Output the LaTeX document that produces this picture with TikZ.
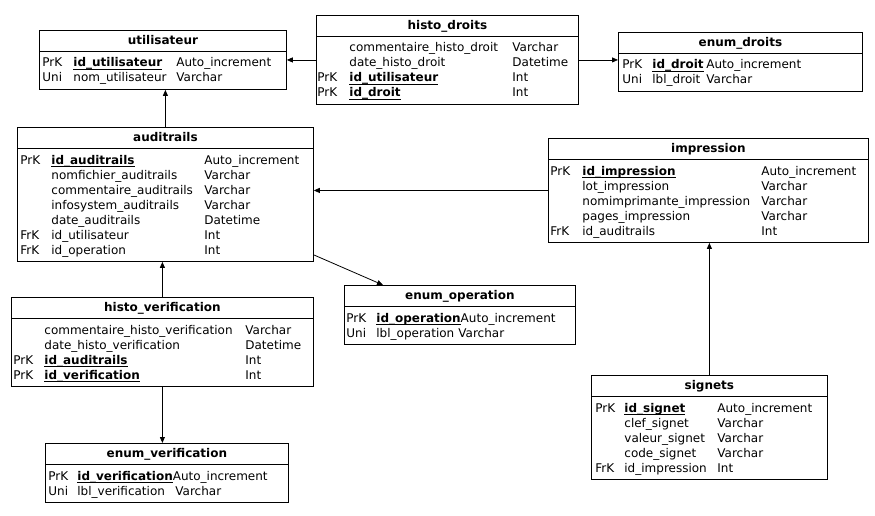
\documentclass[tikz,border=0pt]{standalone}
\usepackage{fontspec}
\setmainfont{DejaVu Sans}
\usepackage{array}
\usepackage{calc}
\usepackage{tikz}
\usetikzlibrary{arrows.meta, positioning}

\setlength{\tabcolsep}{0pt}
\setlength{\arrayrulewidth}{0.8pt}
\newcolumntype{L}[1]{>{\raggedright\arraybackslash}p{#1}}
\newcommand{\tabfont}{\fontsize{12}{15}\selectfont\hyphenpenalty=10000\exhyphenpenalty=10000}
\newcommand{\pkey}[1]{\textbf{#1}\llap{\rule[-2.8pt]{\widthof{\textbf{#1}}}{0.9pt}}}
\newcommand{\headpad}{\rule[-6.5pt]{0pt}{21pt}}
\newcommand{\toppad}{\rule{0pt}{14.8pt}}
\newcommand{\botpad}{\rule[-7.5pt]{0pt}{7.5pt}}

\begin{document}
\begin{tikzpicture}[
    x=1pt, y=-1pt,
    table/.style={draw, line width=0.8pt, inner sep=0pt, anchor=north west, font=\tabfont},
    link/.style={draw, line width=0.8pt, -{Triangle[length=6pt,width=5pt]}}
]
    \useasboundingbox (0,0) rectangle (875,516);

    \node [table] (utilisateur) at (39,30) {%
    \begin{tabular}{@{\hspace{3pt}}L{31pt}L{103pt}L{110pt}}
    \multicolumn{3}{c}{\headpad\textbf{utilisateur}}\\ \hline
    \toppad PrK & \pkey{id\_utilisateur} & Auto\_increment\\
    Uni & nom\_utilisateur & Varchar\botpad\\
    \end{tabular}};

    \node [table] (histo_droits) at (316,15) {%
    \begin{tabular}{@{\hspace{1pt}}L{32pt}L{163pt}L{66pt}}
    \multicolumn{3}{c}{\headpad\textbf{histo\_droits}}\\ \hline
    \toppad & commentaire\_histo\_droit & Varchar\\
    & date\_histo\_droit & Datetime\\
    PrK & \pkey{id\_utilisateur} & Int\\
    PrK & \pkey{id\_droit} & Int\botpad\\
    \end{tabular}};

    \node [table] (enum_droits) at (618,32) {%
    \begin{tabular}{@{\hspace{4pt}}L{30pt}L{54pt}L{156pt}}
    \multicolumn{3}{c}{\headpad\textbf{enum\_droits}}\\ \hline
    \toppad PrK & \pkey{id\_droit} & Auto\_increment\\
    Uni & lbl\_droit & Varchar\botpad\\
    \end{tabular}};

    \node [table] (auditrails) at (17,127) {%
    \begin{tabular}{@{\hspace{3pt}}L{31pt}L{153pt}L{109pt}}
    \multicolumn{3}{c}{\headpad\textbf{auditrails}}\\ \hline
    \toppad PrK & \pkey{id\_auditrails} & Auto\_increment\\
    & nomfichier\_auditrails & Varchar\\
    & commentaire\_auditrails & Varchar\\
    & infosystem\_auditrails & Varchar\\
    & date\_auditrails & Datetime\\
    FrK & id\_utilisateur & Int\\
    FrK & id\_operation & Int\botpad\\
    \end{tabular}};

    \node [table] (impression) at (548,138) {%
    \begin{tabular}{@{\hspace{2pt}}L{32pt}L{179pt}L{107pt}}
    \multicolumn{3}{c}{\headpad\textbf{impression}}\\ \hline
    \toppad PrK & \pkey{id\_impression} & Auto\_increment\\
    & lot\_impression & Varchar\\
    & nomimprimante\_impression & Varchar\\
    & pages\_impression & Varchar\\
    FrK & id\_auditrails & Int\botpad\\
    \end{tabular}};

    \node [table] (histo_verification) at (11,297) {%
    \begin{tabular}{@{\hspace{2pt}}L{31pt}L{201pt}L{68pt}}
    \multicolumn{3}{c}{\headpad\textbf{histo\_verification}}\\ \hline
    \toppad & commentaire\_histo\_verification & Varchar\\
    & date\_histo\_verification & Datetime\\
    PrK & \pkey{id\_auditrails} & Int\\
    PrK & \pkey{id\_verification} & Int\botpad\\
    \end{tabular}};

    \node [table] (enum_operation) at (344,285) {%
    \begin{tabular}{@{\hspace{2pt}}L{30pt}L{82pt}L{117pt}}
    \multicolumn{3}{c}{\headpad\textbf{enum\_operation}}\\ \hline
    \toppad PrK & \multicolumn{2}{L{199pt}}{\pkey{id\_operation}Auto\_increment}\\
    Uni & lbl\_operation & Varchar\botpad\\
    \end{tabular}};

    \node [table] (enum_verification) at (45,443) {%
    \begin{tabular}{@{\hspace{3pt}}L{29pt}L{98pt}L{113pt}}
    \multicolumn{3}{c}{\headpad\textbf{enum\_verification}}\\ \hline
    \toppad PrK & \multicolumn{2}{L{211pt}}{\pkey{id\_verification}Auto\_increment}\\
    Uni & lbl\_verification & Varchar\botpad\\
    \end{tabular}};

    \node [table] (signets) at (591,375) {%
    \begin{tabular}{@{\hspace{4pt}}L{29pt}L{93pt}L{110pt}}
    \multicolumn{3}{c}{\headpad\textbf{signets}}\\ \hline
    \toppad PrK & \pkey{id\_signet} & Auto\_increment\\
    & clef\_signet & Varchar\\
    & valeur\_signet & Varchar\\
    & code\_signet & Varchar\\
    FrK & id\_impression & Int\botpad\\
    \end{tabular}};

    \path [link] (histo_droits.west) -- (histo_droits.west -| utilisateur.east);
    \path [link] (histo_droits.east) -- (histo_droits.east -| enum_droits.west);
    \path [link] (auditrails.north) -- (auditrails.north |- utilisateur.south);
    \path [link] (impression.west) -- (impression.west -| auditrails.east);
    \path [link] ([yshift=7pt]auditrails.south east) -- ([xshift=39pt]enum_operation.north west);
    \path [link] (histo_verification.north) -- (histo_verification.north |- auditrails.south);
    \path [link] (histo_verification.south) -- (histo_verification.south |- enum_verification.north);
    \path [link] (signets.north) -- (signets.north |- impression.south);

\end{tikzpicture}
\end{document}
